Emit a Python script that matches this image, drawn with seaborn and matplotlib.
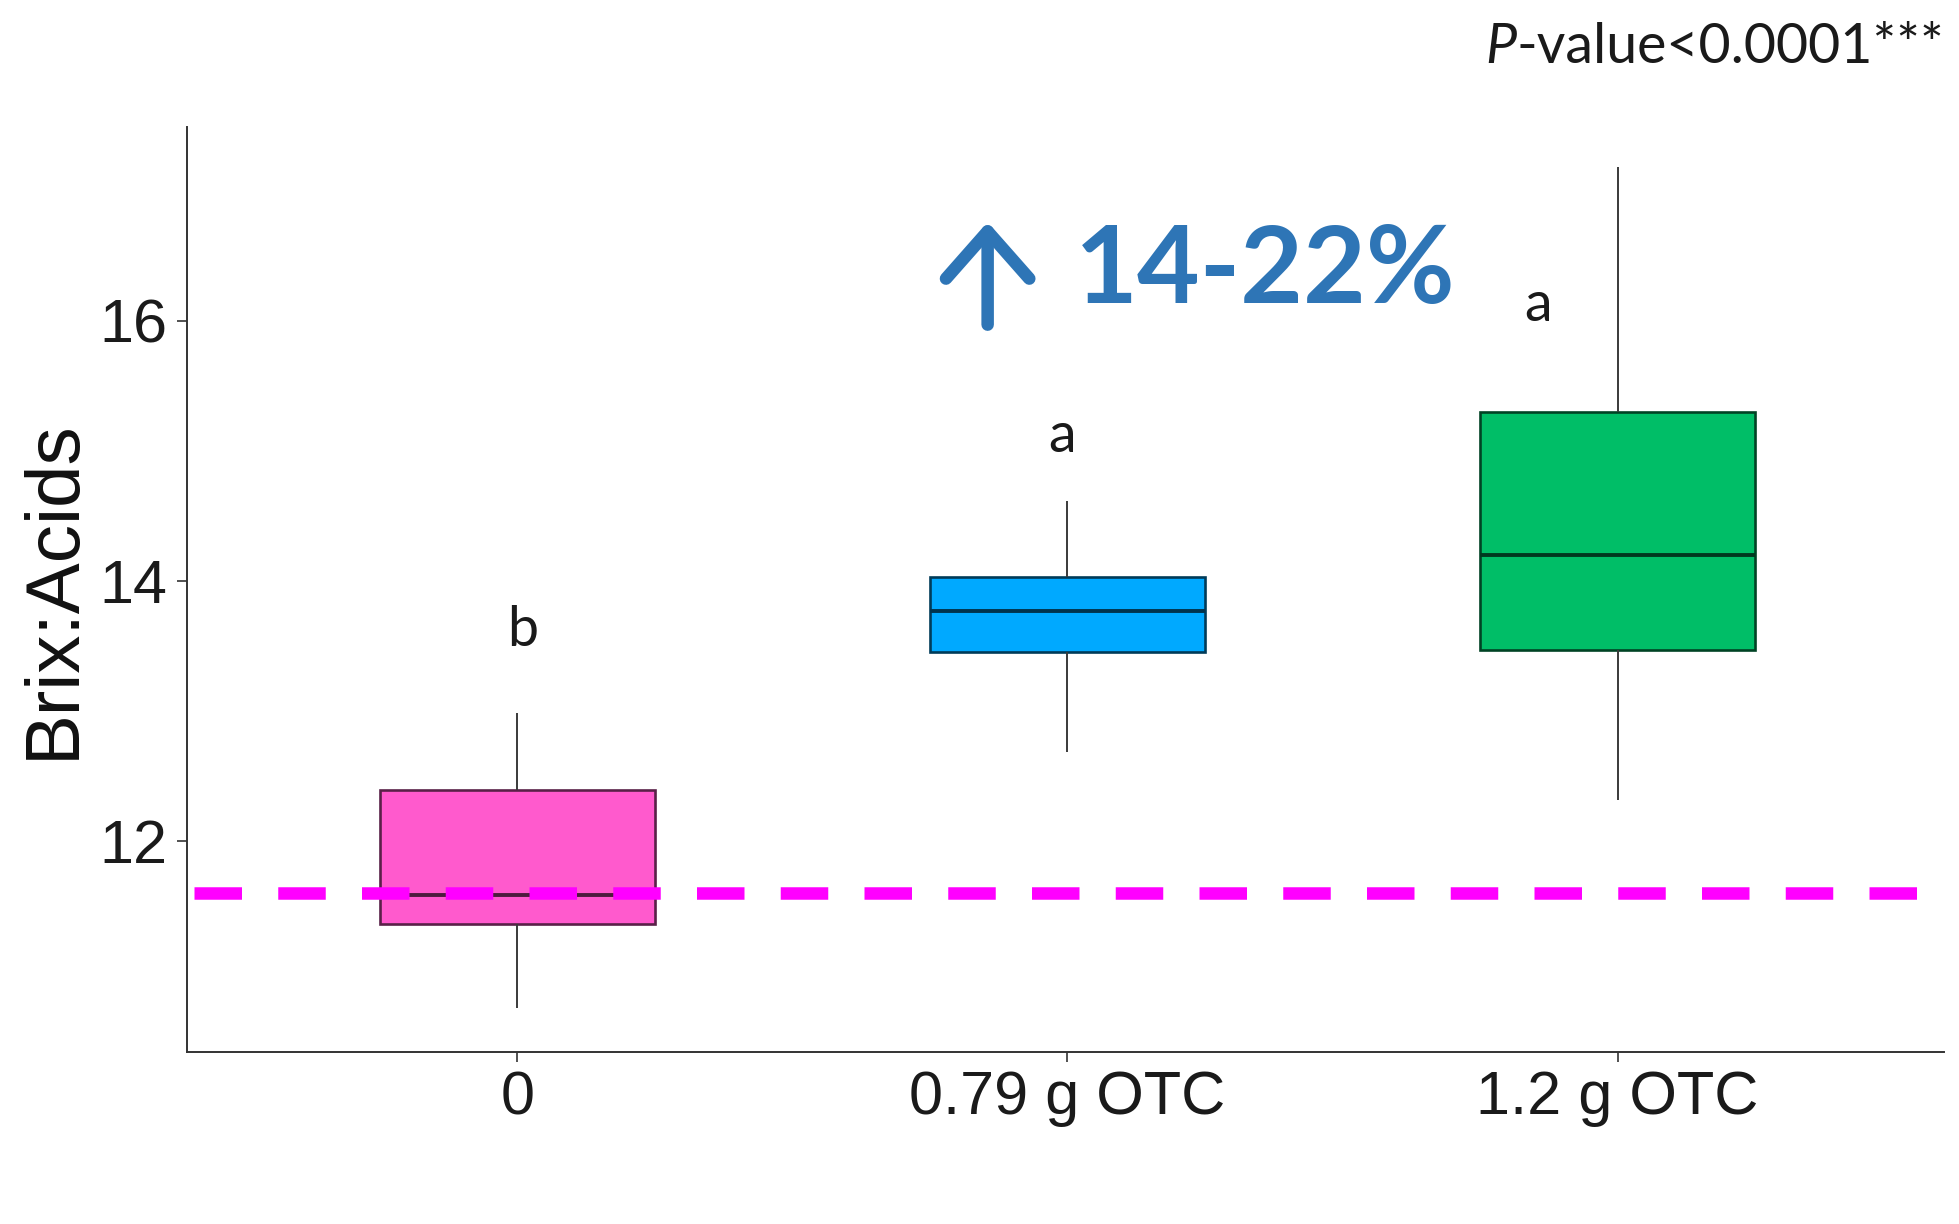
import numpy as np
import pandas as pd
import matplotlib
matplotlib.use("Agg")
import matplotlib.pyplot as plt
import matplotlib.colors as mcolors
import seaborn as sns

# five-number summaries (min, Q1, median, Q3, max)
groups = ["0", "0.79 g OTC", "1.2 g OTC"]
stats_0 = [10.71, 11.36, 11.58, 12.39, 12.98]
stats_079 = [12.68, 13.45, 13.77, 14.03, 14.61]
stats_12 = [12.31, 13.47, 14.20, 15.30, 17.18]
colors = ["#FF5ACD", "#00A9FF", "#00BE67"]
letters = ["b", "a", "a"]
letter_x = [0.01, 0.99, 1.855]
letter_y = [13.62, 15.11, 16.12]
ref_line = 11.60
y_ticks = [12, 14, 16]

df = pd.DataFrame({
    "group": np.repeat(groups, 5),
    "value": stats_0 + stats_079 + stats_12,
})

sns.set_style("white")
plt.rcParams["font.family"] = ["Liberation Sans", "DejaVu Sans"]

fig = plt.figure(figsize=(19.59, 12.24), dpi=100)
ax = fig.add_axes([0.0955, 0.1405, 0.8968, 0.7557])

sns.boxplot(data=df, x="group", y="value", hue="group", order=groups,
            hue_order=groups, palette=colors, saturation=1, width=0.5,
            whis=(0, 100), showcaps=False, linewidth=1.4, linecolor="#3a3a3a",
            medianprops=dict(linewidth=2.8), dodge=False, legend=False, ax=ax)

# darker edges per box, like the original
for patch, c in zip(ax.patches, colors):
    dark = np.array(mcolors.to_rgb(c)) * 0.35
    patch.set_edgecolor(dark)
    patch.set_linewidth(1.9)
for line in ax.lines:
    xd = np.asarray(line.get_xdata(), dtype=float)
    if len(xd) == 2 and xd[0] != xd[1]:
        i = int(round(xd.mean()))
        line.set_color(np.array(mcolors.to_rgb(colors[i])) * 0.3)

ax.axhline(ref_line, xmin=0.004, xmax=0.989, color="#FF00FF", lw=9,
           dashes=(3.8, 2.9), zorder=5)

for lx, ly, t in zip(letter_x, letter_y, letters):
    ax.text(lx, ly, t, ha="center", va="center", fontsize=40,
            family=["Lato", "DejaVu Sans"], color="#1a1a1a")

ax.set_xlim(-0.6, 2.593)
ax.set_ylim(10.375, 17.49)
ax.set_yticks(y_ticks)
ax.set_xlabel("")
ax.set_ylabel("Brix:Acids", fontsize=55, color="#111111")
ax.yaxis.label.set_verticalalignment("center")
ax.yaxis.set_label_coords(-0.0757, 0.5)

sns.despine(ax=ax)
for s in ["left", "bottom"]:
    ax.spines[s].set_color("#333333")
    ax.spines[s].set_linewidth(1.4)
ax.tick_params(axis="both", length=7, width=1.2, color="#333333",
               labelsize=44, labelcolor="#1a1a1a", direction="out",
               left=True, bottom=True)
ax.tick_params(axis="y", pad=7)
ax.tick_params(axis="x", pad=6)

# highlight annotation
blue = "#2E75B6"
ax.annotate("", xy=(0.855, 16.76), xytext=(0.855, 15.97),
            arrowprops=dict(arrowstyle="->,head_length=3.4,head_width=3.0",
                            color=blue, lw=9, mutation_scale=10,
                            shrinkA=0, shrinkB=0, capstyle="round",
                            joinstyle="round"))
ax.text(1.014, 16.377, "14-22%", ha="left", va="center", fontsize=78,
        fontweight="bold", family=["Lato", "DejaVu Sans"], color=blue)

# p-value note
pv = fig.text(0.9923, 0.9616, "-value<0.0001***", ha="right", va="center",
              fontsize=40, family=["Lato", "DejaVu Sans"], color="#1a1a1a")
fig.texts.append(
    matplotlib.text.Annotation("P", xy=(0, 0.5), xycoords=pv, ha="right",
                               va="center", fontsize=40, fontstyle="italic",
                               family=["Lato", "DejaVu Sans"], color="#1a1a1a"))
fig.texts[-1].set_figure(fig)

fig.savefig("out.png", dpi=100)
